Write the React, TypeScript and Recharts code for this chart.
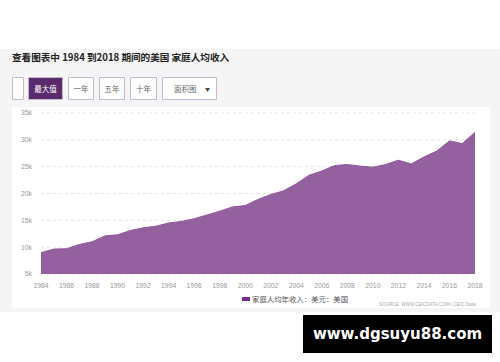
import { AreaChart, Area, XAxis, YAxis, CartesianGrid } from "recharts";

const years = [
  "1984", "1985", "1986", "1987", "1988", "1989", "1990", "1991", "1992", "1993", "1994", "1995",
  "1996", "1997", "1998", "1999", "2000", "2001", "2002", "2003", "2004", "2005", "2006", "2007",
  "2008", "2009", "2010", "2011", "2012", "2013", "2014", "2015", "2016", "2017", "2018",
];
const income = [
  8970, 9650, 9700, 10500, 11000, 12100, 12300, 13100, 13600, 13900, 14500, 14800,
  15300, 16000, 16700, 17500, 17750, 18900, 19800, 20500, 21800, 23400, 24200, 25200,
  25400, 25100, 24900, 25400, 26200, 25500, 26800, 27900, 29800, 29300, 31400,
];
const yTicks = [5000, 10000, 15000, 20000, 25000, 30000, 35000];
const buttons = ["最大值", "一年", "五年", "十年"];

const data = years.map((y, i) => ({ year: y, value: income[i] }));

const tickStyle = { fontSize: 6.8, fill: "#999", fontFamily: "Arial, 'Liberation Sans', sans-serif" };

const btn = (active: boolean) => ({
  position: "absolute" as const,
  top: 77,
  height: 23,
  boxSizing: "border-box" as const,
  border: "1px solid #c7b6cd",
  background: active ? "#5a2b6c" : "#fff",
  color: active ? "#fff" : "#666",
  fontSize: 7.5,
  display: "flex",
  alignItems: "center",
  justifyContent: "center",
  borderRadius: 1,
});

const App = () => {
  const lefts = [28, 68, 99, 130];
  const widths = [35, 26, 26, 27];
  return (
    <div style={{ position: "absolute", left: 0, top: 0, width: 500, height: 362, background: "#fff", overflow: "hidden", fontFamily: "'Noto Sans CJK SC', Arial, sans-serif" }}>
      <div style={{ position: "absolute", left: 0, top: 49, width: 500, height: 263, background: "#f5f5f5" }} />
      <div style={{ position: "absolute", left: 12, top: 50, fontSize: 9.6, fontWeight: 700, color: "#222", whiteSpace: "nowrap", fontFamily: "'Noto Sans CJK SC', Arial, sans-serif" }}>
        查看图表中 1984 到2018 期间的美国 家庭人均收入
      </div>
      <div style={{ ...btn(false), left: 12, width: 12 }} />
      {buttons.map((b, i) => (
        <div key={b} style={{ ...btn(i === 0), left: lefts[i], width: widths[i] }}>{b}</div>
      ))}
      <div style={{ ...btn(false), left: 162, width: 55, justifyContent: "space-between", padding: "0 6px 0 11px" }}>
        <span>面积图</span>
        <span style={{ fontSize: 5, color: "#444" }}>▼</span>
      </div>
      <div style={{ position: "absolute", left: 12, top: 107, width: 478, height: 201, background: "#fff" }}>
        <AreaChart width={478} height={190} data={data} margin={{ top: 6, right: 15, bottom: 0, left: 0 }}>
          <CartesianGrid vertical={false} strokeDasharray="3 3" stroke="#e2e2e2" />
          <XAxis
            dataKey="year"
            interval={1}
            tickLine={false}
            axisLine={false}
            tick={tickStyle}
            tickSize={0}
            tickMargin={9}
            height={23}
          />
          <YAxis
            domain={[5000, 35000]}
            ticks={yTicks}
            tickFormatter={(v) => `${v / 1000}k`}
            tickLine={false}
            axisLine={false}
            tick={tickStyle}
            tickSize={0}
            tickMargin={9}
            width={29}
          />
          <Area
            type="linear"
            dataKey="value"
            stroke="#8f5799"
            strokeWidth={1}
            fill="#95609f"
            fillOpacity={1}
            isAnimationActive={false}
          />
        </AreaChart>
        <div style={{ position: "absolute", left: 230, top: 186, display: "flex", alignItems: "center", fontSize: 7.4, color: "#555", whiteSpace: "nowrap" }}>
          <span style={{ display: "inline-block", width: 8, height: 4, background: "#7a2c8b", marginRight: 2 }} />
          家庭人均年收入：美元：美国
        </div>
        <div style={{ position: "absolute", left: 367, top: 195, fontSize: 4.6, color: "#aaa", whiteSpace: "nowrap", fontFamily: "Arial, sans-serif" }}>
          SOURCE: WWW.CEICDATA.COM | CEIC Data
        </div>
      </div>
      <div style={{ position: "absolute", left: 303, top: 315, width: 189, height: 38, background: "#000", color: "#fff", display: "flex", alignItems: "center", justifyContent: "center", fontSize: 15, fontWeight: 700, fontFamily: "'DejaVu Sans', sans-serif" }}>
        www.dgsuyu88.com
      </div>
    </div>
  );
};

export default App;
